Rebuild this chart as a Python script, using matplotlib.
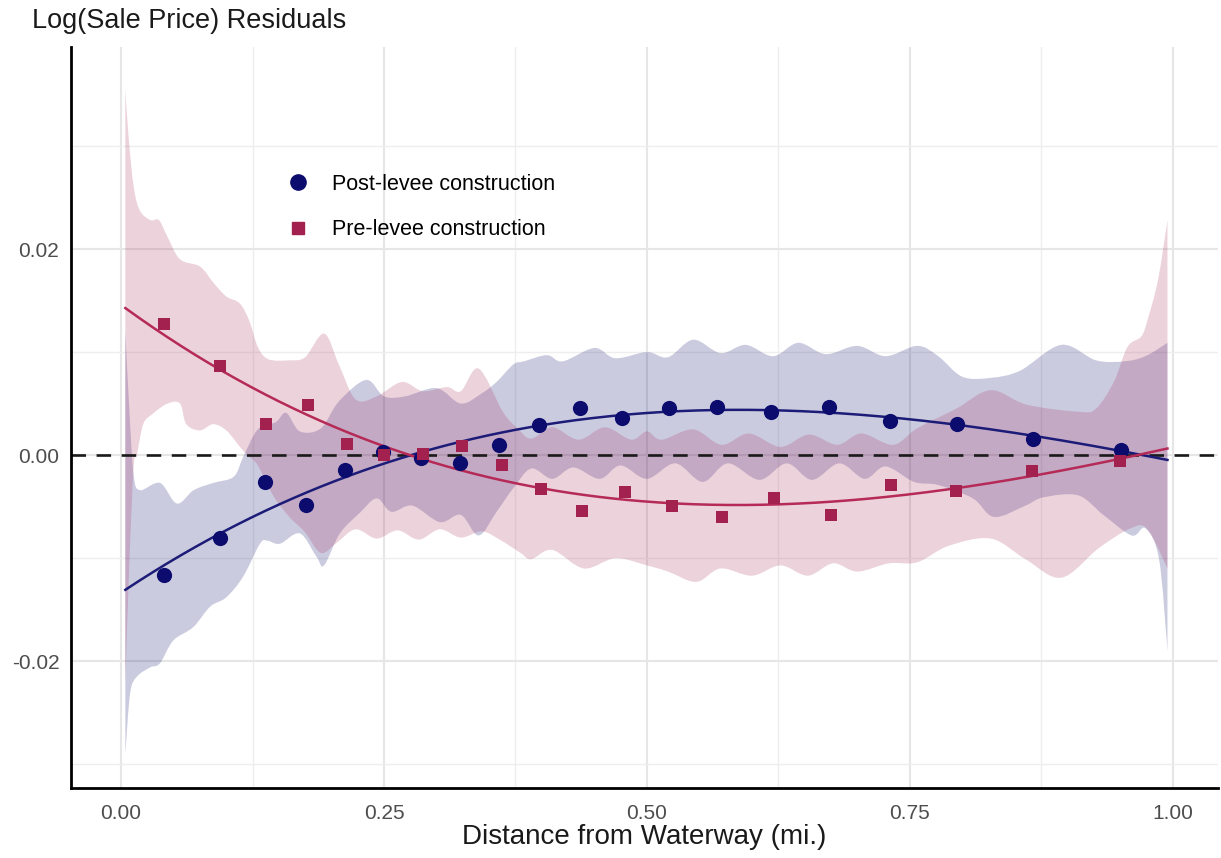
import numpy as np
import matplotlib
matplotlib.use("Agg")
import matplotlib.pyplot as plt
from matplotlib.path import Path
from matplotlib.patches import PathPatch
from matplotlib.lines import Line2D

plt.rcParams['font.family'] = ['Liberation Sans', 'DejaVu Sans']

# ---------------- data ----------------
post_x = [0.041, 0.094, 0.137, 0.176, 0.213, 0.249, 0.285, 0.322, 0.359, 0.397,
          0.436, 0.476, 0.521, 0.567, 0.618, 0.673, 0.731, 0.795, 0.867, 0.951]
post_y = [-0.0116, -0.0080, -0.0026, -0.0048, -0.0014, 0.0003, -0.0003, -0.0008, 0.0010, 0.0029,
          0.0046, 0.0036, 0.0046, 0.0047, 0.0042, 0.0047, 0.0033, 0.0030, 0.0016, 0.0005]

pre_x = [0.041, 0.094, 0.138, 0.178, 0.215, 0.250, 0.287, 0.324, 0.362, 0.399,
         0.438, 0.479, 0.524, 0.571, 0.621, 0.675, 0.732, 0.794, 0.866, 0.950]
pre_y = [0.0127, 0.0086, 0.0030, 0.0049, 0.0011, 0.0000, 0.0001, 0.0009, -0.0010, -0.0033,
         -0.0054, -0.0036, -0.0049, -0.0060, -0.0042, -0.0058, -0.0029, -0.0035, -0.0015, -0.0006]

# confidence band of post-levee series
post_up_x = [0.004, 0.008, 0.012, 0.018, 0.037, 0.053, 0.069, 0.0875, 0.107, 0.116,
             0.130, 0.147, 0.157, 0.170, 0.190, 0.207, 0.233, 0.250, 0.270, 0.300,
             0.323, 0.343, 0.357, 0.373, 0.383, 0.405, 0.420, 0.450, 0.470, 0.500,
             0.520, 0.544, 0.570, 0.594, 0.620, 0.644, 0.670, 0.700, 0.727, 0.757,
             0.777, 0.800, 0.827, 0.855, 0.894, 0.927, 0.954, 0.974, 0.995]
post_up_y = [0.0120, 0.0040, -0.0020, -0.0034, -0.0027, -0.0047, -0.0034, -0.0027, -0.0021, -0.0002,
             0.0025, 0.0032, 0.0041, 0.0023, 0.0026, 0.0052, 0.0073, 0.0057, 0.0057, 0.0065,
             0.0050, 0.0060, 0.0071, 0.0088, 0.0091, 0.0097, 0.0091, 0.0104, 0.0094, 0.0100,
             0.0095, 0.0112, 0.0099, 0.0107, 0.0096, 0.0109, 0.0098, 0.0106, 0.0096, 0.0106,
             0.0096, 0.0076, 0.0075, 0.0082, 0.0107, 0.0092, 0.0091, 0.0096, 0.0109]
post_lo_x = [0.004, 0.0086, 0.015, 0.0276, 0.037, 0.0495, 0.0685, 0.0847, 0.100, 0.116,
             0.132, 0.139, 0.151, 0.170, 0.186, 0.193, 0.208, 0.227, 0.243, 0.257,
             0.277, 0.303, 0.323, 0.340, 0.357, 0.373, 0.390, 0.410, 0.430, 0.455,
             0.475, 0.500, 0.527, 0.553, 0.577, 0.607, 0.633, 0.657, 0.683, 0.707,
             0.727, 0.754, 0.777, 0.810, 0.830, 0.860, 0.877, 0.910, 0.934, 0.961,
             0.974, 0.987, 0.995]
post_lo_y = [-0.0290, -0.0231, -0.0215, -0.0206, -0.0202, -0.0180, -0.0167, -0.0147, -0.0138, -0.0118,
             -0.0086, -0.0083, -0.0086, -0.0076, -0.0099, -0.0107, -0.0076, -0.0056, -0.0042, -0.0055,
             -0.0049, -0.0065, -0.0058, -0.0078, -0.0055, -0.0032, -0.0013, -0.0023, -0.0012, -0.0023,
             -0.0010, -0.0023, -0.0008, -0.0026, -0.0008, -0.0024, -0.0008, -0.0024, -0.0008, -0.0023,
             -0.0011, -0.0026, -0.0029, -0.0042, -0.0060, -0.0049, -0.0041, -0.0039, -0.0058, -0.0078,
             -0.0071, -0.0101, -0.0190]

# confidence band of pre-levee series
pre_up_x = [0.004, 0.007, 0.012, 0.018, 0.028, 0.036, 0.044, 0.056, 0.075, 0.088,
            0.100, 0.113, 0.122, 0.130, 0.140, 0.160, 0.175, 0.193, 0.207, 0.223,
            0.243, 0.267, 0.287, 0.310, 0.323, 0.340, 0.363, 0.377, 0.390, 0.410,
            0.435, 0.460, 0.485, 0.500, 0.514, 0.544, 0.571, 0.597, 0.627, 0.654,
            0.681, 0.704, 0.734, 0.757, 0.794, 0.827, 0.861, 0.911, 0.927, 0.944,
            0.957, 0.970, 0.976, 0.986, 0.995]
pre_up_y = [0.0356, 0.0310, 0.0260, 0.0237, 0.0228, 0.0228, 0.0212, 0.0190, 0.0183, 0.0167,
            0.0154, 0.0147, 0.0130, 0.0105, 0.0093, 0.0092, 0.0095, 0.0118, 0.0088, 0.0054,
            0.0057, 0.0071, 0.0062, 0.0066, 0.0062, 0.0084, 0.0042, 0.0026, 0.0016, 0.0027,
            0.0015, 0.0027, 0.0015, 0.0023, 0.0015, 0.0025, 0.0010, 0.0021, 0.0008, 0.0020,
            0.0010, 0.0021, 0.0010, 0.0026, 0.0045, 0.0063, 0.0049, 0.0042, 0.0045, 0.0071,
            0.0105, 0.0115, 0.0131, 0.0170, 0.0228]
pre_lo_x = [0.004, 0.008, 0.012, 0.015, 0.021, 0.030, 0.044, 0.056, 0.062, 0.075,
            0.0875, 0.100, 0.113, 0.120, 0.130, 0.145, 0.160, 0.175, 0.190, 0.205,
            0.223, 0.243, 0.263, 0.283, 0.303, 0.323, 0.343, 0.360, 0.380, 0.390,
            0.410, 0.440, 0.470, 0.500, 0.520, 0.547, 0.570, 0.600, 0.627, 0.653,
            0.677, 0.700, 0.730, 0.757, 0.787, 0.827, 0.860, 0.894, 0.930, 0.960,
            0.976, 0.995]
pre_lo_y = [-0.0220, -0.0100, -0.0010, 0.0000, 0.0030, 0.0040, 0.0050, 0.0050, 0.0030, 0.0024,
            0.0030, 0.0024, 0.0008, 0.0000, -0.0010, -0.0040, -0.0060, -0.0075, -0.0095, -0.0085,
            -0.0072, -0.0081, -0.0073, -0.0082, -0.0072, -0.0080, -0.0074, -0.0082, -0.0095, -0.0101,
            -0.0092, -0.0110, -0.0100, -0.0107, -0.0113, -0.0123, -0.0110, -0.0117, -0.0107, -0.0117,
            -0.0105, -0.0113, -0.0105, -0.0104, -0.0088, -0.0081, -0.0101, -0.0119, -0.0090, -0.0071,
            -0.0072, -0.0110]

x_ticks = [0.00, 0.25, 0.50, 0.75, 1.00]
x_tick_labels = ["0.00", "0.25", "0.50", "0.75", "1.00"]
y_ticks = [-0.02, 0.00, 0.02]
y_tick_labels = ["-0.02", "0.00", "0.02"]
series_labels = ["Post-levee construction", "Pre-levee construction"]

BLUE = "#0c0c6e"
BLUE_LINE = "#1c1c78"
PINK = "#a3214f"
PINK_LINE = "#b52a56"


def catmull(pts):
    P = np.asarray(pts, dtype=float)
    n = len(P)
    ext = np.vstack([P[0], P, P[-1]])
    verts, codes = [], []
    for i in range(n - 1):
        p0, p1, p2, p3 = ext[i], ext[i + 1], ext[i + 2], ext[i + 3]
        c1 = p1 + (p2 - p0) / 6.0
        c2 = p2 - (p3 - p1) / 6.0
        verts += [tuple(c1), tuple(c2), tuple(p2)]
        codes += [Path.CURVE4] * 3
    return verts, codes


def band(ax, xu, yu, xl, yl, **kw):
    up = list(zip(xu, yu))
    lo = list(zip(xl, yl))[::-1]
    verts, codes = [up[0]], [Path.MOVETO]
    v, c = catmull(up)
    verts += v; codes += c
    verts.append(lo[0]); codes.append(Path.LINETO)
    v, c = catmull(lo)
    verts += v; codes += c
    verts.append(up[0]); codes.append(Path.CLOSEPOLY)
    ax.add_patch(PathPatch(Path(verts, codes), transform=ax.transData, **kw))


fig = plt.figure(figsize=(12.21, 8.58), dpi=100)
ax = fig.add_axes([0.0582, 0.0816, 0.9393, 0.8636])

band(ax, post_up_x, post_up_y, post_lo_x, post_lo_y, facecolor=BLUE, alpha=0.21, edgecolor='none', zorder=1)
band(ax, pre_up_x, pre_up_y, pre_lo_x, pre_lo_y, facecolor=PINK, alpha=0.20, edgecolor='none', zorder=1.1)

ax.axhline(0, color="#1a1a1a", lw=1.9, dashes=(5.5, 4), zorder=2)

# cubic fits of each series
xx = np.linspace(0.004, 0.995, 300)
cp = np.polyfit(post_x, post_y, 3)
cq = np.polyfit(pre_x, pre_y, 3)
ax.plot(xx, np.polyval(cp, xx), color=BLUE_LINE, lw=1.8, zorder=3)
ax.plot(xx, np.polyval(cq, xx), color=PINK_LINE, lw=1.8, zorder=3)

ax.scatter(post_x, post_y, s=120, marker='o', color=BLUE, zorder=4, linewidths=0)
ax.scatter(pre_x, pre_y, s=85, marker='s', color=PINK, zorder=4, linewidths=0)

ax.set_xlim(-0.0476, 1.043)
ax.set_ylim(-0.0323, 0.0396)
ax.set_xticks(x_ticks)
ax.set_xticklabels(x_tick_labels)
ax.set_yticks(y_ticks)
ax.set_yticklabels(y_tick_labels)
ax.set_xticks([0.125, 0.375, 0.625, 0.875], minor=True)
ax.set_yticks([-0.03, -0.01, 0.01, 0.03], minor=True)
ax.grid(which='major', color='#e6e6e6', lw=1.5, zorder=0)
ax.grid(which='minor', color='#eeeeee', lw=1.0, zorder=0)
ax.set_axisbelow(True)
ax.tick_params(which='both', length=0)
ax.tick_params(axis='x', pad=11.5, labelsize=15, labelcolor='#4d4d4d')
ax.tick_params(axis='y', pad=8.5, labelsize=15, labelcolor='#4d4d4d')
for s in ['top', 'right']:
    ax.spines[s].set_visible(False)
for s in ['left', 'bottom']:
    ax.spines[s].set_linewidth(2.0)
    ax.spines[s].set_color('black')

ax.set_xlabel("Distance from Waterway (mi.)", fontsize=20, color='#1a1a1a', labelpad=1)
fig.text(32 / 1221, 1 - 28 / 858, "Log(Sale Price) Residuals", fontsize=19.5,
         color='#1a1a1a', va='baseline', ha='left')

handles = [Line2D([], [], marker='o', ls='none', color=BLUE, markersize=11),
           Line2D([], [], marker='s', ls='none', color=PINK, markersize=9)]
ax.legend(handles, series_labels, loc='upper left', bbox_to_anchor=(0.1885, 0.8290),
          frameon=False, fontsize=15.5, handlelength=1.0, handletextpad=1.1,
          labelspacing=1.15, borderpad=0, borderaxespad=0)

fig.savefig("out.png", dpi=100)
